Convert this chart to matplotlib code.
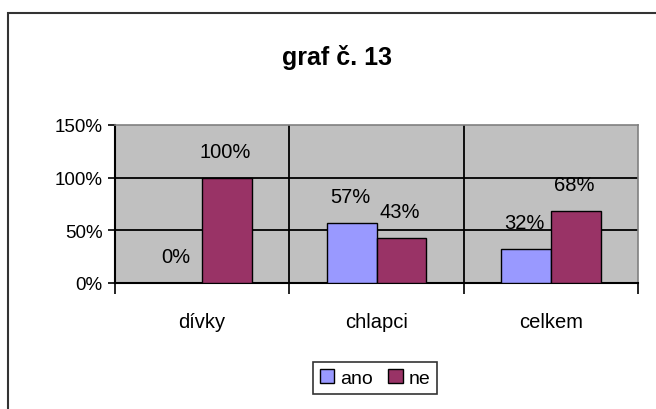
import matplotlib
matplotlib.use("Agg")
import matplotlib.pyplot as plt
from matplotlib.patches import Rectangle
import numpy as np

categories = ["dívky", "chlapci", "celkem"]
ano = [0, 57, 32]
ne = [100, 43, 68]
series_names = ["ano", "ne"]
yticks = [0, 50, 100, 150]
title = "graf č. 13"

plt.rcParams['font.family'] = ['Liberation Sans', 'DejaVu Sans']

W, H = 656, 410
fig = plt.figure(figsize=(W / 100, H / 100), dpi=100)
fig.patch.set_facecolor("white")

# outer chart frame
fig.patches.append(Rectangle((8 / W, -0.05), 1.1, 1 - 14 / H + 0.05, transform=fig.transFigure,
                             fill=False, edgecolor="#333333", linewidth=1.5))

left, right, top, bottom = 115, 638, 126, 284
ax = fig.add_axes([left / W, 1 - bottom / H, (right - left) / W, (bottom - top) / H])
ax.set_facecolor("#C0C0C0")

x = np.arange(len(categories))
bw = 1 / 3.5
b1 = ax.bar(x - bw / 2, ano, bw, color="#9999FF", edgecolor="black", linewidth=1, label=series_names[0], zorder=3)
b2 = ax.bar(x + bw / 2, ne, bw, color="#993366", edgecolor="black", linewidth=1, label=series_names[1], zorder=3)

for bars, vals in ((b1, ano), (b2, ne)):
    for r, v in zip(bars, vals):
        ax.annotate(f"{v}%", (r.get_x() + r.get_width() / 2, v), xytext=(-1, 19),
                    textcoords="offset points", ha="center", va="center", fontsize=14.5, zorder=4)

ax.set_xlim(-0.5, len(categories) - 0.5)
ax.set_ylim(0, 150)
ax.set_yticks(yticks)
ax.set_yticklabels([f"{t}%" for t in yticks], fontsize=13.5)
for t in yticks[1:-1]:
    ax.axhline(t, color="black", linewidth=1.3, zorder=1)
for xv in np.arange(0.5, len(categories) - 0.5, 1):
    ax.axvline(xv, color="black", linewidth=1.3, zorder=1)

ax.set_xticks(np.arange(-0.5, len(categories), 1))
ax.set_xticklabels([])
ax.set_xticks(x, minor=True)
ax.set_xticklabels(categories, minor=True, fontsize=14.5)
ax.tick_params(axis="x", which="minor", length=0, pad=21)
ax.tick_params(axis="x", which="major", length=8, width=1.2, direction="out")
ax.tick_params(axis="y", length=5, width=1.2, direction="out", pad=4)

for s in ("left", "bottom"):
    ax.spines[s].set_color("black")
    ax.spines[s].set_linewidth(1.5)
for s in ("top", "right"):
    ax.spines[s].set_color("#808080")
    ax.spines[s].set_linewidth(1.2)

fig.text(337 / W, 1 - 58 / H, title, ha="center", va="center",
         fontsize=18, fontweight="bold")

leg = fig.legend(handles=[b1, b2], labels=series_names, loc="center",
                 bbox_to_anchor=(375 / W, 1 - 379 / H), ncol=2, fontsize=14,
                 frameon=True, fancybox=False, edgecolor="black", handlelength=0.75,
                 handleheight=0.75, handletextpad=0.3, columnspacing=0.8, borderpad=0.35)
leg.get_frame().set_linewidth(1.2)

fig.savefig("out.png", dpi=100)
